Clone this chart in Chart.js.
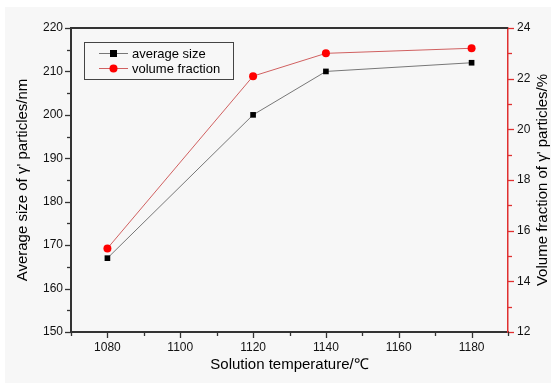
<!DOCTYPE html>
<html>
<head>
<meta charset="utf-8">
<script src="https://cdn.jsdelivr.net/npm/chart.js@4.4.0/dist/chart.umd.min.js"></script>
<style>
  html, body { margin: 0; padding: 0; background: #ffffff; }
  #wrap { position: relative; width: 556px; height: 387px; }
  #bg { position: absolute; left: 5px; top: 7px; width: 546px; height: 376px; background: #f7f7f7; }
  canvas { position: absolute; left: 0; top: 0; }
</style>
</head>
<body>
<div id="wrap">
  <div id="bg"></div>
  <canvas id="chart" width="556" height="387"></canvas>
</div>
<script>
// data
const temperatures = [1080, 1120, 1140, 1180];
const averageSize = [167, 200, 210, 212];
const volumeFraction = [15.3, 22.1, 23.0, 23.2];
const xTickValues = [1080, 1100, 1120, 1140, 1160, 1180];

const FONT = 'Arial, "Liberation Sans", sans-serif';
const RIGHT_TITLE = "Volume fraction of γ' particles/%";

// minor/major ticks, top frame line, right title and the boxed legend
const decorPlugin = {
    id: 'decor',
    afterDraw(chart) {
        const ctx = chart.ctx;
        const area = chart.chartArea;
        const drawTicks = (scale, minor, major, color, side) => {
            ctx.save();
            ctx.strokeStyle = color;
            ctx.lineWidth = 1.3;
            for (let v = scale.min; v <= scale.max + 1e-9; v += minor) {
                const isMajor = Math.abs(v / major - Math.round(v / major)) < 1e-6;
                const len = isMajor ? 6 : 4;
                const p = Math.round(scale.getPixelForValue(v)) + 0.5;
                ctx.beginPath();
                if (side === 'left') { ctx.moveTo(area.left, p); ctx.lineTo(area.left - len, p); }
                if (side === 'right') { ctx.moveTo(area.right, p); ctx.lineTo(area.right + len, p); }
                if (side === 'bottom') { ctx.moveTo(p, area.bottom); ctx.lineTo(p, area.bottom + len); }
                ctx.stroke();
            }
            ctx.restore();
        };
        drawTicks(chart.scales.y, 5, 10, '#333333', 'left');
        drawTicks(chart.scales.y1, 1, 2, '#e03030', 'right');
        drawTicks(chart.scales.x, 10, 20, '#333333', 'bottom');

        ctx.save();
        ctx.strokeStyle = '#333333';
        ctx.lineWidth = 2;
        ctx.beginPath();
        ctx.moveTo(area.left, area.top);
        ctx.lineTo(area.right, area.top);
        ctx.stroke();

        // right axis title, reading bottom to top
        ctx.save();
        ctx.translate(543, (area.top + area.bottom) / 2);
        ctx.rotate(-Math.PI / 2);
        ctx.font = '15px ' + FONT;
        ctx.fillStyle = '#000000';
        ctx.textAlign = 'center';
        ctx.textBaseline = 'middle';
        ctx.fillText(RIGHT_TITLE, 0, 0);
        ctx.restore();

        // legend box
        ctx.lineWidth = 1;
        ctx.strokeStyle = '#444444';
        ctx.strokeRect(84.5, 42.5, 149, 37);
        const items = [
            { label: 'average size', line: '#777777', fill: '#000000', shape: 'rect', y: 53 },
            { label: 'volume fraction', line: '#d06060', fill: '#ff0000', shape: 'circle', y: 68 }
        ];
        items.forEach(it => {
            ctx.strokeStyle = it.line;
            ctx.beginPath();
            ctx.moveTo(99, it.y + 0.5);
            ctx.lineTo(128, it.y + 0.5);
            ctx.stroke();
            ctx.fillStyle = it.fill;
            if (it.shape === 'rect') {
                ctx.fillRect(110, it.y - 3, 7, 7);
            } else {
                ctx.beginPath();
                ctx.arc(113.5, it.y + 0.5, 4, 0, Math.PI * 2);
                ctx.fill();
            }
            ctx.fillStyle = '#000000';
            ctx.font = '13px ' + FONT;
            ctx.textBaseline = 'middle';
            ctx.fillText(it.label, 132, it.y + 1);
        });
        ctx.restore();
    }
};

new Chart(document.getElementById('chart').getContext('2d'), {
    type: 'line',
    data: {
        labels: temperatures,
        datasets: [{
            label: 'average size',
            data: temperatures.map((t, i) => ({ x: t, y: averageSize[i] })),
            yAxisID: 'y',
            borderColor: '#777777',
            borderWidth: 1,
            pointStyle: 'rect',
            pointRadius: 4,
            pointBackgroundColor: '#000000',
            pointBorderColor: '#000000',
            pointBorderWidth: 0,
            tension: 0
        }, {
            label: 'volume fraction',
            data: temperatures.map((t, i) => ({ x: t, y: volumeFraction[i] })),
            yAxisID: 'y1',
            borderColor: '#d06060',
            borderWidth: 1,
            pointStyle: 'circle',
            pointRadius: 4,
            pointBackgroundColor: '#ff0000',
            pointBorderColor: '#ff0000',
            pointBorderWidth: 0,
            tension: 0
        }]
    },
    options: {
        responsive: false,
        animation: false,
        layout: { padding: { top: 28, left: 0, right: 0, bottom: 0 } },
        plugins: {
            legend: { display: false },
            tooltip: { enabled: false }
        },
        scales: {
            x: {
                type: 'linear',
                min: 1070,
                max: 1190,
                afterFit: s => { s.height = 55; },
                afterBuildTicks: s => { s.ticks = xTickValues.map(v => ({ value: v })); },
                grid: { display: false, drawTicks: false },
                border: { display: true, color: '#333333', width: 2 },
                ticks: {
                    padding: 8,
                    color: '#111111',
                    font: { size: 12, family: FONT },
                    callback: v => String(v)
                },
                title: {
                    display: true,
                    text: 'Solution temperature/℃',
                    color: '#000000',
                    font: { size: 15, family: FONT },
                    padding: { top: 0, bottom: 13 }
                }
            },
            y: {
                position: 'left',
                min: 150,
                max: 220,
                afterFit: s => { s.width = 71; },
                grid: { display: false, drawTicks: false },
                border: { display: true, color: '#333333', width: 2 },
                ticks: {
                    stepSize: 10,
                    padding: 8,
                    color: '#111111',
                    font: { size: 12, family: FONT }
                },
                title: {
                    display: true,
                    text: "Average size of γ' particles/nm",
                    color: '#000000',
                    font: { size: 15, family: FONT },
                    padding: { top: 14, bottom: 0 }
                }
            },
            y1: {
                position: 'right',
                min: 12,
                max: 24,
                afterFit: s => { s.width = 48; },
                grid: { display: false, drawTicks: false },
                border: { display: true, color: '#e03030', width: 1.5 },
                ticks: {
                    stepSize: 2,
                    padding: 9,
                    color: '#111111',
                    font: { size: 12, family: FONT }
                }
            }
        }
    },
    plugins: [decorPlugin]
});
</script>
</body>
</html>
